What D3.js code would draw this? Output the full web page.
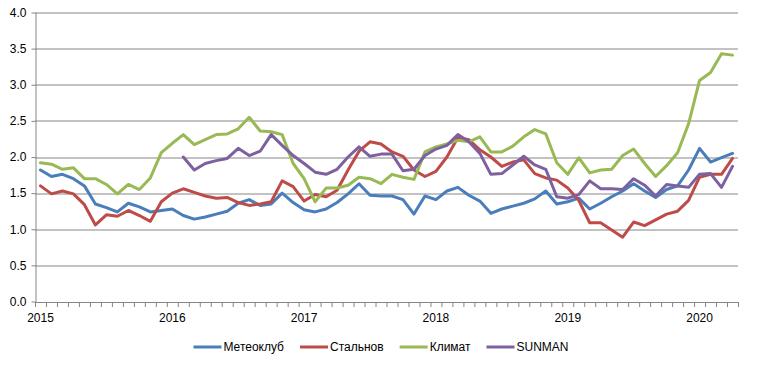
<!DOCTYPE html>
<meta charset="utf-8">
<style>
    body { margin: 0; background: #fff; }
    text { font-family: "Liberation Sans", Arial, sans-serif; fill: #000; }
    .grid line { stroke: #868686; stroke-width: 1; }
    .axis path, .axis line { stroke: #868686; }
    .series { fill: none; stroke-width: 3; stroke-linejoin: round; stroke-linecap: round; }
</style>
<svg width="760" height="365"></svg>
<script src="https://cdn.jsdelivr.net/npm/d3@7"></script>
<script>
    // подписи лет (по январю каждого года)
    var years = ["2015", "2016", "2017", "2018", "2019", "2020"];
    var nMonths = 64; // январь 2015 .. апрель 2020

    var seriesNames = ["Метеоклуб", "Стальнов", "Климат", "SUNMAN"];
    var seriesColors = ["#4A7EBB", "#BE4B48", "#98B954", "#7D60A0"];

    var meteoclub = [1.82, 1.73, 1.76, 1.70, 1.60, 1.35, 1.30, 1.24, 1.36, 1.31, 1.24, 1.26,
        1.28, 1.19, 1.14, 1.17, 1.21, 1.25, 1.36, 1.41, 1.33, 1.35, 1.50, 1.37,
        1.27, 1.24, 1.28, 1.37, 1.49, 1.63, 1.47, 1.46, 1.46, 1.41, 1.21, 1.46,
        1.41, 1.53, 1.58, 1.47, 1.39, 1.22, 1.28, 1.32, 1.36, 1.42, 1.53, 1.35,
        1.38, 1.43, 1.28, 1.36, 1.45, 1.53, 1.63, 1.53, 1.44, 1.55, 1.60, 1.82,
        2.12, 1.93, 1.99, 2.05];

    var stalnov = [1.60, 1.49, 1.53, 1.49, 1.34, 1.06, 1.20, 1.18, 1.26, 1.19, 1.11, 1.38,
        1.50, 1.56, 1.51, 1.46, 1.43, 1.44, 1.37, 1.33, 1.35, 1.38, 1.67, 1.59,
        1.39, 1.48, 1.45, 1.54, 1.82, 2.08, 2.21, 2.18, 2.07, 2.01, 1.82, 1.73,
        1.80, 2.00, 2.27, 2.24, 2.10, 2.00, 1.87, 1.93, 1.96, 1.77, 1.71, 1.68,
        1.57, 1.40, 1.09, 1.09, 0.99, 0.89, 1.10, 1.05, 1.13, 1.21, 1.25, 1.40,
        1.72, 1.76, 1.76, 1.98];

    var klimat = [1.92, 1.90, 1.83, 1.85, 1.70, 1.70, 1.62, 1.49, 1.62, 1.55, 1.71, 2.06,
        2.19, 2.31, 2.17, 2.24, 2.31, 2.32, 2.39, 2.55, 2.36, 2.35, 2.31, 1.91,
        1.70, 1.38, 1.57, 1.57, 1.61, 1.72, 1.70, 1.63, 1.76, 1.72, 1.69, 2.07,
        2.14, 2.18, 2.23, 2.21, 2.28, 2.07, 2.07, 2.15, 2.28, 2.38, 2.32, 1.92,
        1.76, 1.99, 1.78, 1.82, 1.83, 2.02, 2.11, 1.91, 1.73, 1.88, 2.06, 2.46,
        3.06, 3.17, 3.43, 3.41];

    var sunman = [null, null, null, null, null, null, null, null, null, null, null, null,
        null, 2.00, 1.82, 1.91, 1.95, 1.98, 2.12, 2.02, 2.08, 2.31, 2.16, 2.02,
        1.91, 1.79, 1.76, 1.83, 2.00, 2.14, 2.01, 2.04, 2.04, 1.81, 1.83, 2.02,
        2.11, 2.16, 2.31, 2.21, 2.05, 1.76, 1.77, 1.89, 2.01, 1.89, 1.83, 1.45,
        1.43, 1.48, 1.67, 1.56, 1.56, 1.55, 1.70, 1.61, 1.46, 1.62, 1.60, 1.58,
        1.76, 1.77, 1.58, 1.87];

    var yTicks = [0, 0.5, 1, 1.5, 2, 2.5, 3, 3.5, 4];

    var allSeries = [meteoclub, stalnov, klimat, sunman];

    var svg = d3.select("svg"),
        margin = { top: 12.5, right: 22, bottom: 63.5, left: 35 },
        width = +svg.attr("width") - margin.left - margin.right,
        height = +svg.attr("height") - margin.top - margin.bottom;

    var months = d3.range(nMonths);

    var x = d3.scaleBand().domain(months).range([0, width]).padding(0),
        xEdges = d3.scaleLinear().domain([0, nMonths]).range([0, width]),
        y = d3.scaleLinear().domain([0, 4]).range([height, 0]);

    var g = svg.append("g")
        .attr("transform", "translate(" + margin.left + "," + margin.top + ")");

    // сетка
    g.append("g")
        .attr("class", "grid")
        .selectAll("line")
        .data(yTicks.slice(1))
        .enter().append("line")
        .attr("x1", 0)
        .attr("x2", width)
        .attr("y1", function (d) { return Math.round(y(d)) + 0.5; })
        .attr("y2", function (d) { return Math.round(y(d)) + 0.5; });

    // ось Y
    var yAxis = d3.axisLeft(y)
        .tickValues(yTicks)
        .tickFormat(d3.format(".1f"))
        .tickSizeInner(4)
        .tickSizeOuter(0)
        .tickPadding(5);

    g.append("g")
        .attr("class", "axis axis--y")
        .attr("transform", "translate(0.5,0)")
        .call(yAxis)
        .call(function (s) {
            s.selectAll("text").style("font-size", "12px");
        });

    // ось X: деления по границам месяцев
    g.append("g")
        .attr("class", "axis axis--x")
        .attr("transform", "translate(0," + (Math.round(height) + 0.5) + ")")
        .call(d3.axisBottom(xEdges)
            .tickValues(d3.range(nMonths + 1))
            .tickFormat("")
            .tickSizeInner(5)
            .tickSizeOuter(0));

    // подписи лет
    g.append("g")
        .attr("transform", "translate(0," + height + ")")
        .call(d3.axisBottom(x)
            .tickValues(years.map(function (d, i) { return i * 12; }))
            .tickFormat(function (d) { return years[d / 12]; })
            .tickSize(0)
            .tickPadding(12))
        .call(function (s) {
            s.select(".domain").remove();
            s.selectAll("text").style("font-size", "12px");
        });

    var line = d3.line()
        .defined(function (d) { return d != null; })
        .x(function (d, i) { return x(i) + x.bandwidth() / 2; })
        .y(function (d) { return y(d); });

    g.selectAll(".series")
        .data(allSeries)
        .enter().append("path")
        .attr("class", "series")
        .attr("stroke", function (d, i) { return seriesColors[i]; })
        .attr("d", line);

    // легенда
    var legend = svg.append("g").attr("transform", "translate(0,347)");
    var items = legend.selectAll("g")
        .data(seriesNames)
        .enter().append("g");

    items.append("line")
        .attr("x1", 0).attr("x2", 28)
        .attr("y1", 0).attr("y2", 0)
        .attr("stroke", function (d, i) { return seriesColors[i]; })
        .attr("stroke-width", 3);

    items.append("text")
        .attr("x", 30)
        .attr("dy", "0.35em")
        .style("font-size", "12px")
        .text(function (d) { return d; });

    var gap = 16, widths = [];
    items.each(function () {
        widths.push(30 + d3.select(this).select("text").node().getComputedTextLength());
    });
    var total = d3.sum(widths) + gap * (widths.length - 1);
    var pos = 381 - total / 2;
    items.attr("transform", function (d, i) {
        var t = "translate(" + pos + ",0)";
        pos += widths[i] + gap;
        return t;
    });
</script>
